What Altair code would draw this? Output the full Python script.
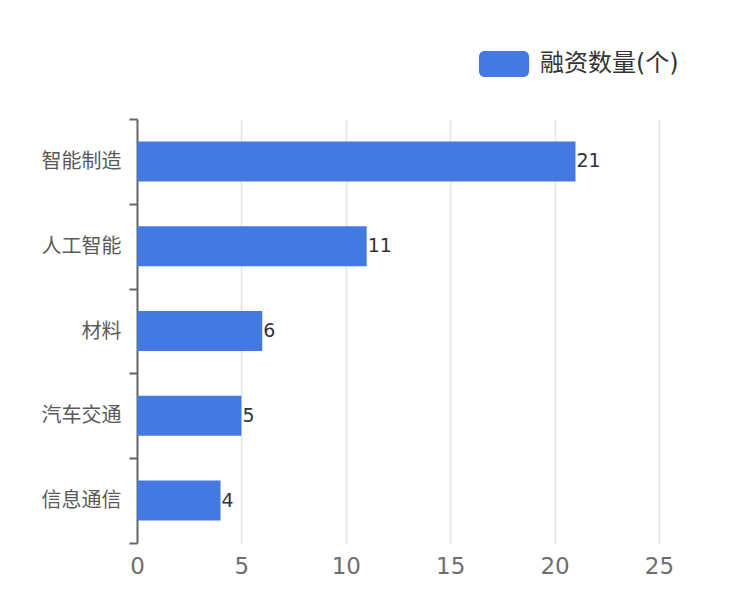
import altair as alt
import pandas as pd

categories = ["智能制造", "人工智能", "材料", "汽车交通", "信息通信"]
values = [21, 11, 6, 5, 4]
series_name = "融资数量(个)"
x_ticks = [0, 5, 10, 15, 20, 25]

df = pd.DataFrame({"category": categories, "value": values, "series": [series_name] * len(values)})

FONT = "DejaVu Sans, Noto Sans CJK SC, sans-serif"
BLUE = "#4479E1"

ypos = alt.Y("category:N", sort=categories, title=None,
             scale=alt.Scale(paddingInner=0, paddingOuter=0),
             axis=alt.Axis(tickBand="extent", domainColor="#666666", domainWidth=2,
                           tickColor="#666666", tickWidth=2, tickSize=8,
                           labelFontSize=20, labelColor="#5a5a5a", labelPadding=8,
                           labelFont=FONT, grid=False))

bars = alt.Chart(df).mark_bar(size=40).encode(
    x=alt.X("value:Q", title=None,
            scale=alt.Scale(domain=[0, 25], nice=False),
            axis=alt.Axis(values=x_ticks, domain=False, ticks=False, grid=True,
                          gridColor="#e3e3e3", gridWidth=1.5, labelFlush=False,
                          labelFontSize=23, labelColor="#6e6e6e", labelPadding=12,
                          labelFont=FONT)),
    y=ypos,
    color=alt.Color("series:N", scale=alt.Scale(range=[BLUE]),
                    legend=alt.Legend(title=None, orient="none", legendX=342, legendY=-80,
                                      symbolType="M-1,-0.3A0.22,0.22 0 0 1 -0.78,-0.52L0.78,-0.52A0.22,0.22 0 0 1 1,-0.3L1,0.3A0.22,0.22 0 0 1 0.78,0.52L-0.78,0.52A0.22,0.22 0 0 1 -1,0.3Z",
                                      symbolSize=2500, symbolStrokeWidth=0, symbolOpacity=1,
                                      labelFontSize=24, labelColor="#333333", labelFont=FONT,
                                      labelOffset=11)),
)

labels = alt.Chart(df).mark_text(align="left", baseline="middle", dx=1, fontSize=19,
                                 color="#333333", font=FONT).encode(
    x="value:Q", y=alt.Y("category:N", sort=categories), text="value:Q")

chart = (bars + labels).properties(
    width=522, height=424,
    autosize=alt.AutoSizeParams(type="none"),
    padding={"left": 129, "top": 111, "right": 83, "bottom": 45},
).configure_view(stroke=None)

chart.save("out.html", embed_options={"renderer": "svg", "actions": False})
